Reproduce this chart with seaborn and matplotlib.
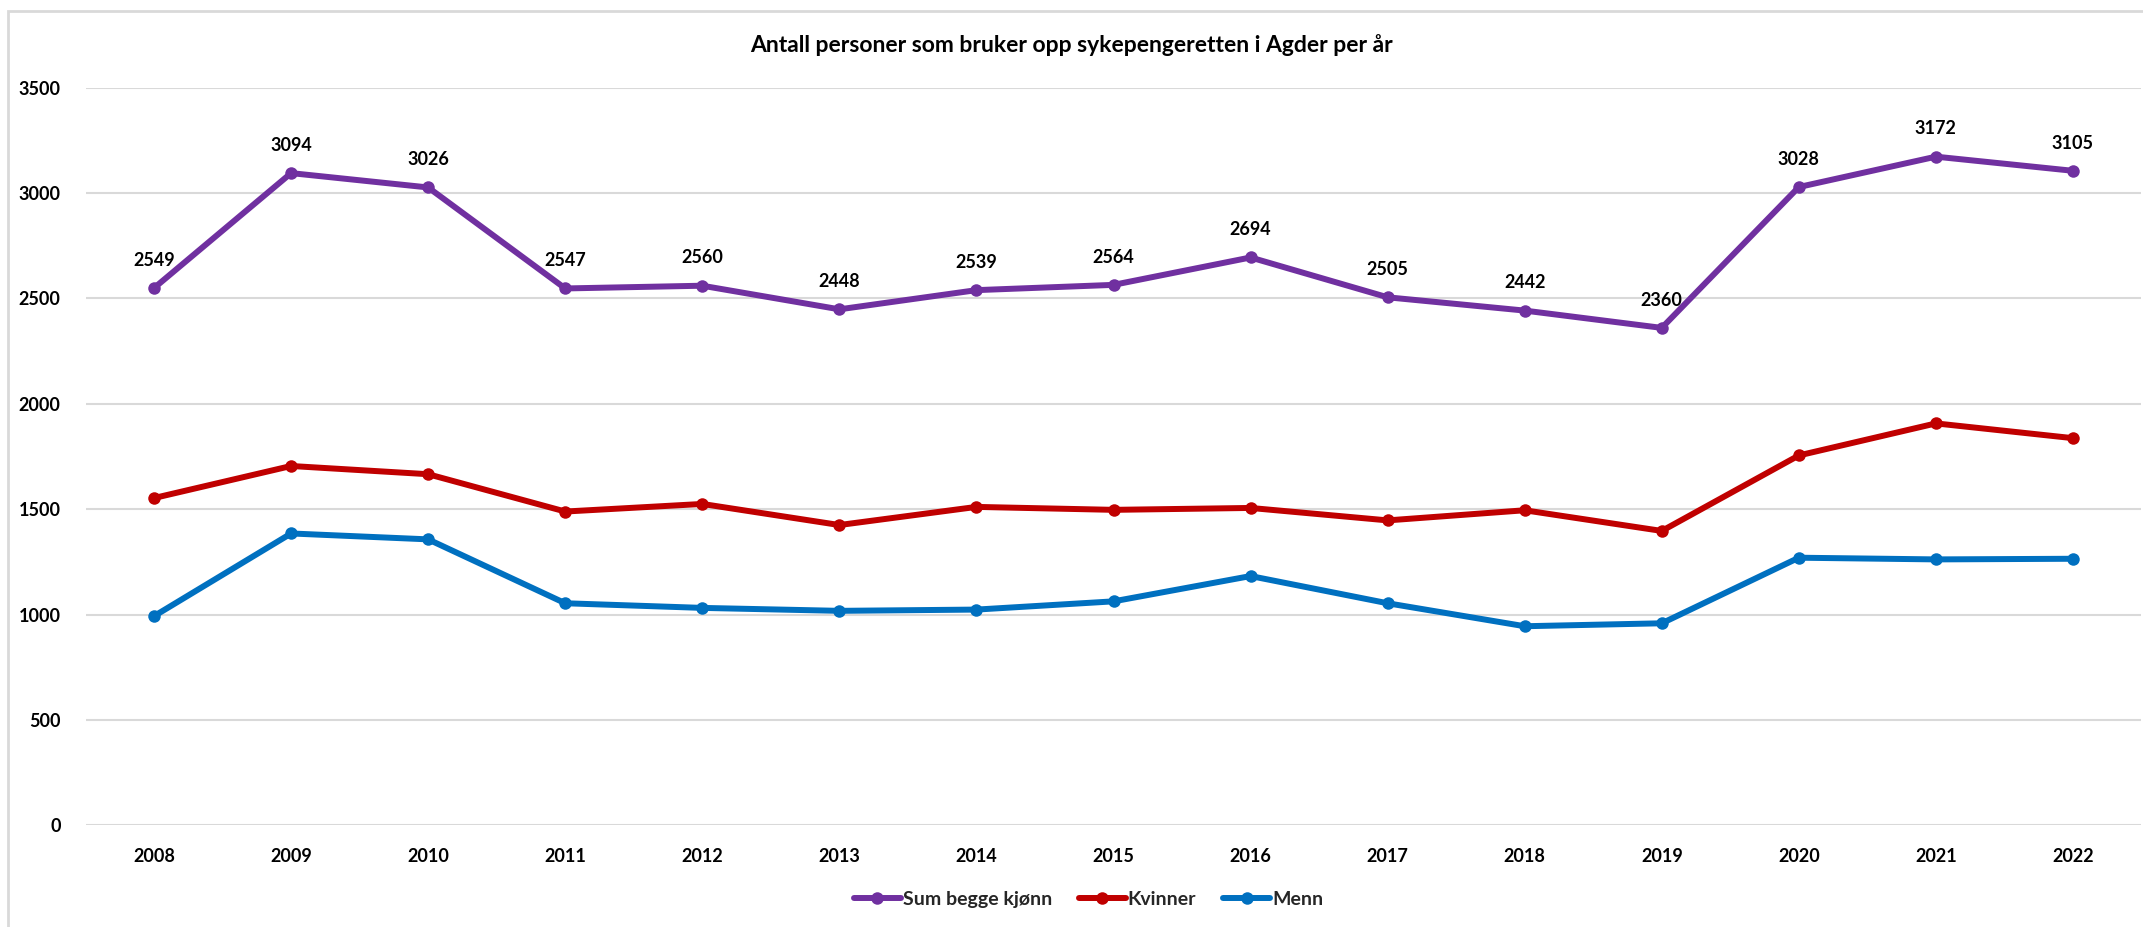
import matplotlib
matplotlib.use("Agg")
import matplotlib.pyplot as plt
from matplotlib.patches import Rectangle
import seaborn as sns
import pandas as pd

years = [2008, 2009, 2010, 2011, 2012, 2013, 2014, 2015,
         2016, 2017, 2018, 2019, 2020, 2021, 2022]
sum_begge = [2549, 3094, 3026, 2547, 2560, 2448, 2539, 2564,
             2694, 2505, 2442, 2360, 3028, 3172, 3105]
kvinner = [1553, 1705, 1666, 1489, 1525, 1425, 1511, 1497,
           1506, 1447, 1495, 1397, 1755, 1907, 1837]
menn = [993, 1385, 1357, 1054, 1032, 1018, 1024, 1063,
        1183, 1054, 945, 959, 1270, 1262, 1265]

series_names = ["Sum begge kjønn", "Kvinner", "Menn"]
series_values = [sum_begge, kvinner, menn]
colors = ["#7030A0", "#C00000", "#0070C0"]

title = "Antall personer som bruker opp sykepengeretten i Agder per år"
y_ticks = [0, 500, 1000, 1500, 2000, 2500, 3000, 3500]

sns.set_theme(style="white")
plt.rcParams["font.family"] = ["Lato", "DejaVu Sans"]
plt.rcParams["font.weight"] = "bold"

df = pd.concat(
    [pd.DataFrame({"År": years, "Antall": vals, "Serie": name})
     for name, vals in zip(series_names, series_values)],
    ignore_index=True,
)

fig = plt.figure(figsize=(21.43, 9.27), dpi=100)
ax = fig.add_axes([0.0399, 0.1095, 0.9594, 0.7961])

sns.lineplot(
    data=df, x="År", y="Antall", hue="Serie", hue_order=series_names,
    palette=colors, marker="o", markersize=9, markeredgewidth=0,
    linewidth=4.3, ax=ax, legend=True,
)

# value labels on the total series
for x, v in zip(years, sum_begge):
    ax.annotate(str(v), (x, v), xytext=(0, 20), textcoords="offset points",
                ha="center", va="center", fontsize=13, fontweight="bold",
                color="black")

ax.set_xlim(years[0] - 0.5, years[-1] + 0.5)
ax.set_ylim(0, 3500)
ax.set_xticks(years)
ax.set_xticklabels([str(y) for y in years])
ax.set_yticks(y_ticks)
ax.set_yticklabels([str(t) for t in y_ticks])
ax.tick_params(axis="both", length=0, labelsize=13, colors="black")
ax.tick_params(axis="x", pad=16)
ax.tick_params(axis="y", pad=18)
for lab in ax.get_xticklabels() + ax.get_yticklabels():
    lab.set_fontweight("bold")
ax.set_xlabel("")
ax.set_ylabel("")
ax.yaxis.grid(True, color="#D9D9D9", linewidth=1.5)
ax.set_axisbelow(True)
for s in ax.spines.values():
    s.set_visible(False)

fig.text(0.5, 0.951, title, ha="center", va="center",
         fontsize=16.5, fontweight="bold", color="black")

handles, labels = ax.get_legend_handles_labels()
ax.legend_.remove()
fig.legend(handles, labels, loc="center", bbox_to_anchor=(0.508, 0.03),
           ncol=3, frameon=False, fontsize=14, handlelength=2.4,
           handletextpad=0.1, columnspacing=1.4)

# chart-area border (left and top edges fall inside the canvas)
fig.patches.append(Rectangle((8 / 2143, -0.02), 1.05, 1.02 - 11 / 927,
                             transform=fig.transFigure, fill=False,
                             edgecolor="#D9D9D9", linewidth=2))

fig.savefig("out.png", dpi=100, facecolor="white")
